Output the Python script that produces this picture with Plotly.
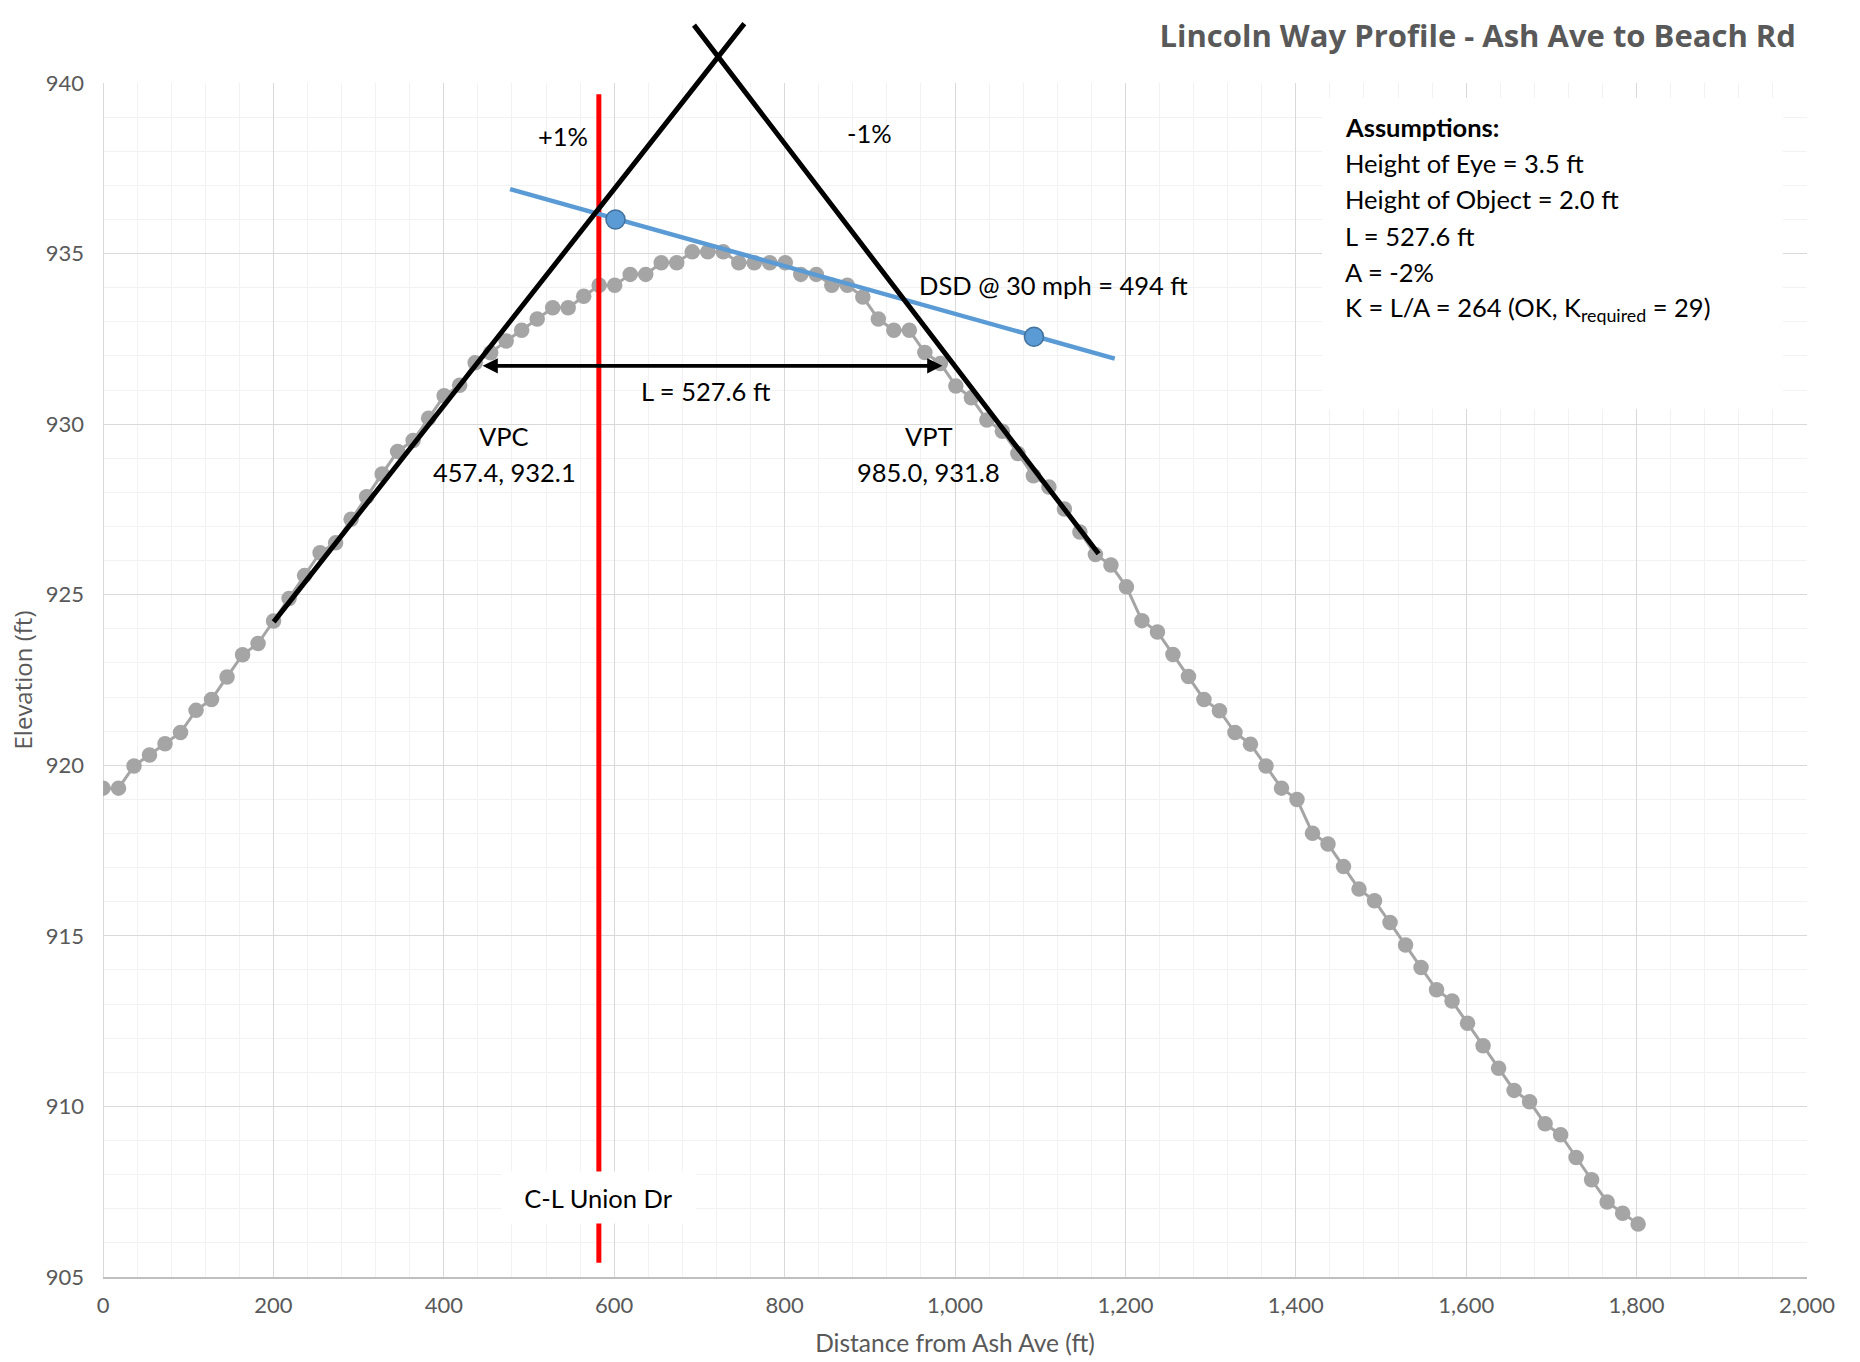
import plotly.graph_objects as go

# Road profile survey: station (ft from Ash Ave) and ground elevation (ft)
station_ft = [
    0.0, 18.2, 36.4, 54.6, 72.8, 91.0, 109.2, 127.4, 145.6, 163.8,
    182.0, 200.2, 218.4, 236.6, 254.8, 273.0, 291.2, 309.4, 327.6, 345.8,
    364.0, 382.2, 400.4, 418.6, 436.8, 455.0, 473.2, 491.4, 509.6, 527.8,
    546.0, 564.2, 582.4, 600.6, 618.8, 637.0, 655.2, 673.4, 691.6, 709.8,
    728.0, 746.2, 764.4, 782.6, 800.8, 819.0, 837.2, 855.4, 873.6, 891.8,
    910.0, 928.2, 946.4, 964.6, 982.8, 1001.0, 1019.2, 1037.4, 1055.6, 1073.8,
    1092.0, 1110.2, 1128.4, 1146.6, 1164.8, 1183.0, 1201.2, 1219.4, 1237.6, 1255.8,
    1274.0, 1292.2, 1310.4, 1328.6, 1346.8, 1365.0, 1383.2, 1401.4, 1419.6, 1437.8,
    1456.0, 1474.2, 1492.4, 1510.6, 1528.8, 1547.0, 1565.2, 1583.4, 1601.6, 1619.8,
    1638.0, 1656.2, 1674.4, 1692.6, 1710.8, 1729.0, 1747.2, 1765.4, 1783.6, 1801.8,
]
elevation_ft = [
    919.33, 919.33, 919.98, 920.30, 920.63, 920.96, 921.61, 921.93, 922.59, 923.24,
    923.57, 924.23, 924.89, 925.56, 926.23, 926.52, 927.21, 927.87, 928.54, 929.20,
    929.52, 930.17, 930.83, 931.14, 931.80, 932.09, 932.44, 932.75, 933.08, 933.41,
    933.41, 933.75, 934.07, 934.07, 934.39, 934.39, 934.73, 934.73, 935.05, 935.05,
    935.05, 934.73, 934.73, 934.73, 934.73, 934.39, 934.39, 934.07, 934.07, 933.73,
    933.08, 932.75, 932.75, 932.10, 931.78, 931.12, 930.77, 930.12, 929.79, 929.14,
    928.49, 928.16, 927.51, 926.84, 926.18, 925.87, 925.23, 924.24, 923.91, 923.25,
    922.60, 921.93, 921.60, 920.96, 920.62, 919.98, 919.33, 919.00, 918.01, 917.69,
    917.03, 916.37, 916.03, 915.39, 914.73, 914.07, 913.42, 913.09, 912.44, 911.78,
    911.12, 910.47, 910.14, 909.49, 909.17, 908.50, 907.85, 907.20, 906.87, 906.55,
]

# Centerline of the Union Dr intersection
union_dr_x = [582.0, 582.0]
union_dr_y = [905.42, 939.67]

# Decision sight distance line and its two end points (eye / object)
dsd_line_x = [477.8, 1187.5]
dsd_line_y = [936.89, 931.92]
dsd_point_x = [601.5, 1092.7]
dsd_point_y = [936.00, 932.56]

# Grade tangents through the VPI
tangent_in_x = [199.0, 752.7]
tangent_in_y = [924.16, 941.74]
tangent_out_x = [692.3, 1168.5]
tangent_out_y = [941.74, 926.20]

# Curve length dimension arrow
curve_len_x = [443.8, 985.2]
curve_len_y = [931.71, 931.71]

x_ticks = [0, 200, 400, 600, 800, 1000, 1200, 1400, 1600, 1800, 2000]
y_ticks = [905, 910, 915, 920, 925, 930, 935, 940]

TEXT_FONT = "Lato, Calibri, 'Open Sans', sans-serif"
GREY_TXT = "#595959"

fig = go.Figure()

fig.add_trace(go.Scatter(
    x=station_ft, y=elevation_ft, mode="lines+markers",
    line=dict(color="#a5a5a5", width=3),
    marker=dict(color="#a5a5a5", size=15.5),
    hoverinfo="skip",
))
fig.add_trace(go.Scatter(
    x=union_dr_x, y=union_dr_y, mode="lines",
    line=dict(color="#ff0000", width=5), hoverinfo="skip",
))
fig.add_trace(go.Scatter(
    x=dsd_line_x, y=dsd_line_y, mode="lines",
    line=dict(color="#5b9bd5", width=4.5), hoverinfo="skip",
))
fig.add_trace(go.Scatter(
    x=dsd_point_x, y=dsd_point_y, mode="markers",
    marker=dict(color="#5b9bd5", size=19, line=dict(color="#41719c", width=1.5)),
    hoverinfo="skip",
))

annotations = []

# Grade tangents (drawn as arrow-less annotation lines so they can run past the top of the grid)
for tx, ty in ((tangent_in_x, tangent_in_y), (tangent_out_x, tangent_out_y)):
    annotations.append(dict(
        x=tx[1], y=ty[1], ax=tx[0], ay=ty[0], xref="x", yref="y", axref="x", ayref="y",
        text="", showarrow=True, arrowhead=0, arrowwidth=5, arrowcolor="black",
        standoff=0, startstandoff=0,
    ))

# Double-headed curve-length arrow
annotations.append(dict(
    x=curve_len_x[1], y=curve_len_y[1], ax=curve_len_x[0], ay=curve_len_y[0],
    xref="x", yref="y", axref="x", ayref="y", text="", showarrow=True,
    arrowside="end+start", arrowhead=2, startarrowhead=2,
    arrowsize=0.8, startarrowsize=0.8, arrowwidth=3.8, arrowcolor="black",
    standoff=0, startstandoff=0,
))


def label(text, x, y, xanchor="center", **kw):
    d = dict(text=text, x=x, y=y, xref="x", yref="y", showarrow=False,
             xanchor=xanchor, yanchor="middle",
             font=dict(family=TEXT_FONT, size=25.5, color="black"))
    d.update(kw)
    annotations.append(d)


label("VPI", 845, 941.87)
label("712.7, 935.0", 845.7, 940.78)
label("+1%", 540, 938.44)
label("-1%", 900, 938.53)
label("L = 527.6 ft", 707.6, 930.97)
label("VPC", 470.7, 929.65)
label("457.4, 932.1", 470.7, 928.60)
label("VPT", 969.2, 929.65)
label("985.0, 931.8", 969.2, 928.60)
label("DSD @ 30 mph = 494 ft", 955.4, 934.07, xanchor="left")

# Assumptions panel (white backing over the grid)
annotations.append(dict(
    text=" ", x=1431, y=939.55, xref="x", yref="y", xanchor="left", yanchor="top",
    showarrow=False, width=461, height=311, bgcolor="white", borderpad=0, borderwidth=0,
))
assumption_lines = [
    "<b>Assumptions:</b>",
    "Height of Eye = 3.5 ft",
    "Height of Object = 2.0 ft",
    "L = 527.6 ft",
    "A = -2%",
    "K = L/A = 264 (OK, K<sub>required</sub> = 29)",
]
assumption_y = [938.70, 937.65, 936.59, 935.51, 934.45, 933.37]
for txt, yy in zip(assumption_lines, assumption_y):
    label(txt, 1455.1, yy, xanchor="left")

# Street label on the red centerline
label("C-L Union Dr", 582.0, 907.34, bgcolor="white", width=193, height=51,
      borderpad=0)

fig.update_layout(
    width=1860, height=1362,
    margin=dict(l=103, r=53, t=83, b=85, autoexpand=False),
    plot_bgcolor="white", paper_bgcolor="white",
    showlegend=False,
    font=dict(family=TEXT_FONT, color=GREY_TXT),
    title=dict(
        text="<b>Lincoln Way Profile - Ash Ave to Beach Rd</b>",
        xref="paper", x=0.9935, xanchor="right",
        yref="container", y=1 - 36 / 1362, yanchor="middle",
        font=dict(family="'Open Sans', sans-serif", size=31, color=GREY_TXT),
    ),
    xaxis=dict(
        range=[0, 2000], tickvals=x_ticks, tickformat=",d", automargin=False,
        showgrid=True, gridcolor="#d9d9d9", gridwidth=1,
        minor=dict(dtick=40, tick0=0, showgrid=True, gridcolor="#f2f2f2", gridwidth=1),
        zeroline=True, zerolinecolor="#d9d9d9", zerolinewidth=1,
        showline=True, linecolor="#bfbfbf", linewidth=1.5,
        ticks="", ticklabelstandoff=8,
        tickfont=dict(family=TEXT_FONT, size=22, color=GREY_TXT),
        title=dict(text="Distance from Ash Ave (ft)", standoff=18,
                   font=dict(family=TEXT_FONT, size=24.5, color=GREY_TXT)),
    ),
    yaxis=dict(
        range=[905, 940], tickvals=y_ticks, automargin=False,
        showgrid=True, gridcolor="#d9d9d9", gridwidth=1,
        minor=dict(dtick=1, tick0=905, showgrid=True, gridcolor="#f2f2f2", gridwidth=1),
        zeroline=False, showline=False,
        ticks="", ticklabelstandoff=18,
        tickfont=dict(family=TEXT_FONT, size=22, color=GREY_TXT),
        title=dict(text="Elevation (ft)", standoff=6,
                   font=dict(family="'Open Sans', sans-serif", size=24, color=GREY_TXT)),
    ),
    annotations=annotations,
)

fig.write_html("out.html")
